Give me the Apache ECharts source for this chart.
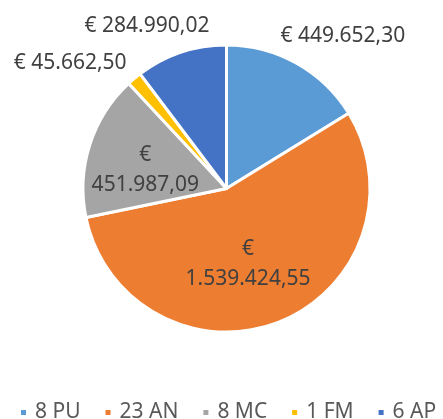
<!DOCTYPE html>
<html>
<head>
<meta charset="utf-8">
<script src="https://cdn.jsdelivr.net/npm/echarts@6/dist/echarts.min.js"></script>
<style>
  html, body { margin: 0; padding: 0; background: #fff; }
  #main { width: 443px; height: 419px; }
</style>
</head>
<body>
<div id="main"></div>
<script>
// data
var categories = ['8 PU', '23 AN', '8 MC', '1 FM', '6 AP'];
var amounts = [449652.30, 1539424.55, 451987.09, 45662.50, 284990.02];
var colors = ['#5B9BD5', '#ED7D31', '#A5A5A5', '#FFC000', '#4472C4'];
// which labels sit inside the slice
var insideLabel = [false, true, true, false, false];
// small nudges of the labels from where echarts puts them
var labelShift = [[-25, -20], [-6, 6], [-10, 4], [4, -14], [36, -19]];

function euro(v) {
  var parts = v.toFixed(2).split('.');
  var int = parts[0].replace(/\B(?=(\d{3})+(?!\d))/g, '.');
  return int + ',' + parts[1];
}

var chart = echarts.init(document.getElementById('main'));

var data = categories.map(function (c, i) {
  var item = { name: c, value: amounts[i], itemStyle: { color: colors[i] } };
  if (insideLabel[i]) {
    item.label = { position: 'inner', formatter: function (p) { return '€\n' + euro(p.value); } };
  }
  return item;
});

chart.setOption({
  animation: false,
  textStyle: { fontFamily: 'Noto Sans' },
  legend: {
    bottom: -9,
    left: 14,
    width: 520,
    icon: 'rect',
    itemWidth: 7,
    itemHeight: 7,
    itemGap: 23,
    textStyle: { color: '#595959', fontSize: 21, fontFamily: 'Noto Sans', padding: [0, 0, 0, 3] },
    data: categories
  },
  series: [{
    type: 'pie',
    center: [226.5, 188.5],
    radius: [0, 143.5],
    startAngle: 90,
    clockwise: true,
    itemStyle: { borderColor: '#fff', borderWidth: 3 },
    label: {
      show: true,
      position: 'outside',
      overflow: 'none',
      color: '#404040',
      fontSize: 21,
      lineHeight: 30,
      fontFamily: 'Noto Sans',
      formatter: function (p) { return '€ ' + euro(p.value); }
    },
    labelLine: { show: false, length: 8, length2: 0 },
    labelLayout: function (p) {
      var s = labelShift[p.dataIndex];
      return { dx: s[0], dy: s[1] };
    },
    data: data
  }]
});
</script>
</body>
</html>
